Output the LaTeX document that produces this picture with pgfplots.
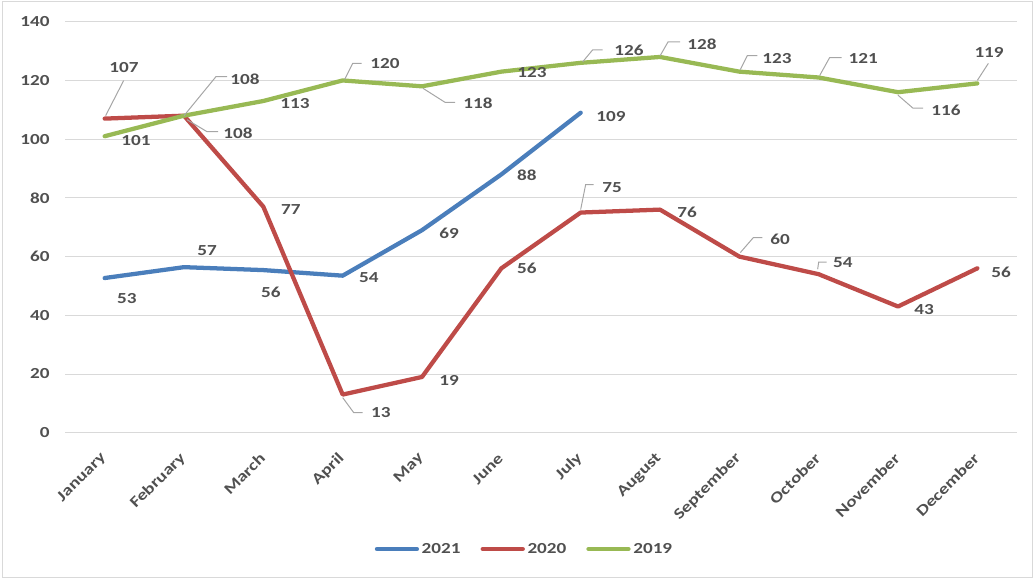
\documentclass[border=0pt]{standalone}
\usepackage{fontspec}
\setmainfont{Carlito}[FakeStretch=1.25]
\usepackage{pgfplots}
\pgfplotsset{compat=1.18}
\definecolor{c21}{HTML}{4A7EBB}
\definecolor{c20}{HTML}{BE4B48}
\definecolor{c19}{HTML}{98B954}
\definecolor{txt}{HTML}{505050}
\definecolor{grd}{HTML}{D9D9D9}
\definecolor{ldrc}{HTML}{A6A6A6}
\tikzset{
  lbl/.style={font=\fontsize{11.5}{13}\selectfont\bfseries, text=txt, inner sep=0pt},
  ldr/.style={draw=ldrc, line width=0.75pt},
}
\begin{document}
\begin{tikzpicture}
\useasboundingbox (0,0) rectangle (775.5pt,434.25pt);
\draw[grd, line width=0.75pt] (1.5pt,1.5pt) rectangle (774pt,432.75pt);
\begin{axis}[
  at={(48.75pt,109.7pt)}, anchor=south west,
  scale only axis, width=714pt, height=308.25pt,
  xmin=-0.5, xmax=11.5, ymin=0, ymax=140,
  ytick={0,20,...,140}, xtick={0,...,11},
  xticklabels={January,February,March,April,May,June,July,August,September,October,November,December},
  axis line style={draw=none}, major tick length=0pt,
  ymajorgrids, grid style={grd, line width=0.75pt},
  tick label style={font=\fontsize{11.5}{13}\selectfont\bfseries, text=txt},
  /pgf/number format/assume math mode=true,
  yticklabel style={anchor=east, xshift=-8pt},
  xticklabel style={xshift=1.8pt, yshift=-14.8pt, rotate=45, anchor=east},
  clip=false,
  legend style={at={(0.483,-0.283)}, anchor=center, draw=none, fill=none,
    legend columns=3, font=\fontsize{11.5}{13}\selectfont\bfseries, text=txt,
    /tikz/every even column/.append style={column sep=13pt}},
  legend image code/.code={\draw[#1] (0pt,0pt) -- (30pt,0pt);},
  every axis plot/.append style={line width=3.2pt, line join=round, line cap=round},
]
\addplot[c21] coordinates {(0,52.7) (1,56.4) (2,55.4) (3,53.5) (4,69) (5,88) (6,109)};
\addlegendentry{2021}
\addplot[c20] coordinates {(0,107) (1,108) (2,77) (3,13) (4,19) (5,56) (6,75) (7,76) (8,60) (9,54) (10,43) (11,56)};
\addlegendentry{2020}
\addplot[c19] coordinates {(0,101) (1,108) (2,113) (3,120) (4,118) (5,123) (6,126) (7,128) (8,123) (9,121) (10,116) (11,119)};
\addlegendentry{2019}
% 2021 labels
\node[lbl, xshift=16.7pt, yshift=-15.7pt] at (axis cs:0,53) {53};
\node[lbl, xshift=17.3pt, yshift=10.8pt] at (axis cs:1,57) {57};
\node[lbl, xshift=5.7pt, yshift=-17.8pt] at (axis cs:2,56) {56};
\node[lbl, xshift=19.7pt, yshift=-2.9pt] at (axis cs:3,54) {54};
\node[lbl, xshift=20.3pt, yshift=-2.2pt] at (axis cs:4,69) {69};
\node[lbl, xshift=19.2pt, yshift=-0.5pt] at (axis cs:5,88) {88};
\node[lbl, xshift=22.7pt, yshift=-3.2pt] at (axis cs:6,109) {109};
% 2020 labels
\node[lbl, xshift=14.5pt, yshift=38.6pt] at (axis cs:0,107) {107};
\node[lbl, xshift=40.5pt, yshift=-13pt] at (axis cs:1,108) {108};
\node[lbl, xshift=20.7pt, yshift=-1.8pt] at (axis cs:2,77) {77};
\node[lbl, xshift=28.7pt, yshift=-13.1pt] at (axis cs:3,13) {13};
\node[lbl, xshift=20.3pt, yshift=-2.3pt] at (axis cs:4,19) {19};
\node[lbl, xshift=19.2pt, yshift=0.2pt] at (axis cs:5,56) {56};
\node[lbl, xshift=23.5pt, yshift=19.1pt] at (axis cs:6,75) {75};
\node[lbl, xshift=20.3pt, yshift=-1.8pt] at (axis cs:7,76) {76};
\node[lbl, xshift=30.5pt, yshift=13.1pt] at (axis cs:8,60) {60};
\node[lbl, xshift=18.2pt, yshift=8.4pt] at (axis cs:9,54) {54};
\node[lbl, xshift=19.5pt, yshift=-2.6pt] at (axis cs:10,43) {43};
\node[lbl, xshift=17.8pt, yshift=-2.8pt] at (axis cs:11,56) {56};
% 2019 labels
\node[lbl, xshift=23.5pt, yshift=-2.9pt] at (axis cs:0,101) {101};
\node[lbl, xshift=45.8pt, yshift=27.5pt] at (axis cs:1,108) {108};
\node[lbl, xshift=23.7pt, yshift=-1.6pt] at (axis cs:2,113) {113};
\node[lbl, xshift=31.7pt, yshift=13pt] at (axis cs:3,120) {120};
\node[lbl, xshift=42pt, yshift=-12.6pt] at (axis cs:4,118) {118};
\node[lbl, xshift=23pt, yshift=-1pt] at (axis cs:5,123) {123};
\node[lbl, xshift=36.2pt, yshift=9.6pt] at (axis cs:6,126) {126};
\node[lbl, xshift=31.5pt, yshift=9.7pt] at (axis cs:7,128) {128};
\node[lbl, xshift=28.2pt, yshift=10.2pt] at (axis cs:8,123) {123};
\node[lbl, xshift=33.4pt, yshift=14.5pt] at (axis cs:9,121) {121};
\node[lbl, xshift=36pt, yshift=-13.4pt] at (axis cs:10,116) {116};
\node[lbl, xshift=8.8pt, yshift=23.5pt] at (axis cs:11,119) {119};
% leader lines
\draw[ldr] (axis cs:0,107) ++(0.75pt,2.25pt) -- ++(13.5pt,26.3pt);
\draw[ldr] (axis cs:1,108) -- ++(24pt,29.3pt) -- ++(8.3pt,0pt);
\draw[ldr] (axis cs:1,108) ++(2.25pt,-3pt) -- ++(15pt,-9pt) -- ++(8.3pt,0pt);
\draw[ldr] (axis cs:3,120) ++(1.5pt,0.75pt) -- ++(6pt,12pt) -- ++(6.8pt,0pt);
\draw[ldr] (axis cs:4,118) ++(0.75pt,-1.5pt) -- ++(16.5pt,-10.5pt) -- ++(7.5pt,0pt);
\draw[ldr] (axis cs:3,13) ++(0pt,-2.25pt) -- ++(8.25pt,-11.25pt) -- ++(6.8pt,0pt);
\draw[ldr] (axis cs:6,75) ++(0pt,2.25pt) -- ++(3.75pt,18.75pt) -- ++(6pt,0pt);
\draw[ldr] (axis cs:8,60) ++(0.75pt,3pt) -- ++(9.75pt,11.25pt) -- ++(6.8pt,0pt);
\draw[ldr] (axis cs:9,54) ++(-0.75pt,3.75pt) -- ++(0.75pt,5.25pt) -- ++(6pt,0pt);
\draw[ldr] (axis cs:10,116) ++(0pt,-2.25pt) -- ++(11.25pt,-9.75pt) -- ++(7.5pt,0pt);
\draw[ldr] (axis cs:11,119) ++(0pt,2.25pt) -- ++(8.25pt,12.75pt);
\draw[ldr] (axis cs:6,126) ++(1.5pt,0.75pt) -- ++(7.5pt,9pt) -- ++(7.5pt,0pt);
\draw[ldr] (axis cs:7,128) ++(0pt,0.75pt) -- ++(6pt,10.5pt) -- ++(9pt,0pt);
\draw[ldr] (axis cs:8,123) ++(0.75pt,1.5pt) -- ++(5.25pt,10.5pt) -- ++(7.5pt,0pt);
\draw[ldr] (axis cs:9,121) ++(0.75pt,1.5pt) -- ++(7.5pt,13.5pt) -- ++(9pt,0pt);
\end{axis}
\end{tikzpicture}
\end{document}
